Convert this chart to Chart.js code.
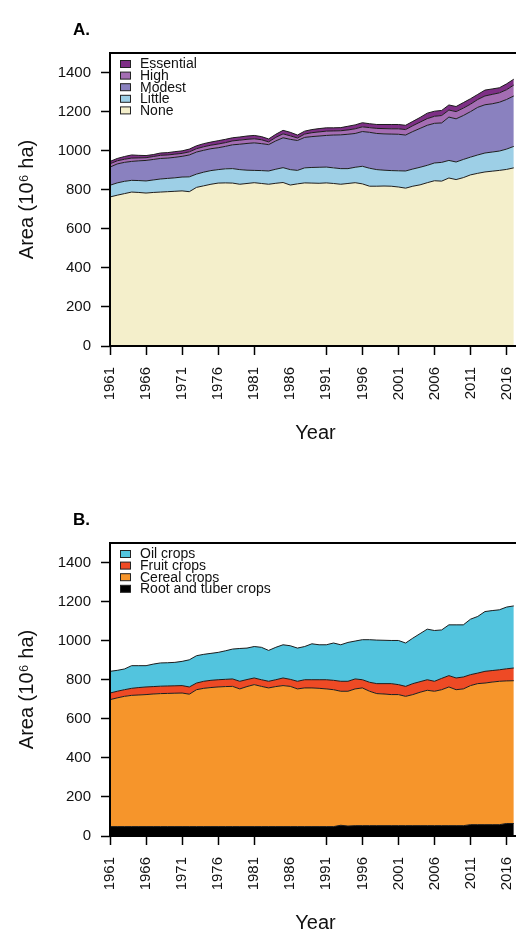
<!DOCTYPE html>
<html lang="en">
<head>
  <meta charset="UTF-8" />
  <meta name="viewport" content="width=device-width, initial-scale=1" />
  <title>Harvested area by pollinator dependence and crop group</title>
  <script src="https://cdn.jsdelivr.net/npm/chart.js"></script>
  <style>
    html, body {
      margin: 0;
      padding: 0;
      background: #fff;
      overflow: hidden;
    }
    body {
      width: 516px;
      height: 933px;
      position: relative;
    }
    .panel { position: absolute; left: 0; }
    #chartA { top: 0; }
    #chartB { top: 490px; }
  </style>
</head>
<body>
  <canvas id="chartA" class="panel" width="540" height="466"></canvas>
  <canvas id="chartB" class="panel" width="540" height="466"></canvas>

  <script>
    const years = Array.from({ length: 57 }, (_, i) => 1961 + i);
    const yearTicks = [1961, 1966, 1971, 1976, 1981, 1986, 1991, 1996, 2001, 2006, 2011, 2016];
    const areaTicks = [0, 200, 400, 600, 800, 1000, 1200, 1400];

    // Panel A: area by pollinator dependence (10^6 ha), 1961-2017
    const noneArea = [
      763, 772, 780, 788, 786, 783, 786, 788, 790, 792,
      794, 790, 812, 820, 828, 834, 835, 834, 828, 832,
      836, 832, 828, 833, 837, 824, 830, 835, 834, 833,
      835, 832, 828, 832, 836, 830, 818, 818, 819, 818,
      814, 808, 818, 825, 836, 846, 844, 860, 852, 862,
      876, 884, 891, 895, 899, 904, 912
    ];
    const littleArea = [
      60, 63, 63, 60, 61, 62, 64, 67, 68, 69,
      71, 76, 68, 70, 70, 69, 72, 74, 75, 68,
      63, 66, 68, 72, 76, 79, 69, 77, 80, 82,
      81, 80, 80, 76, 79, 90, 92, 85, 81, 80,
      83, 88, 88, 90, 89, 91, 96, 90, 90, 93,
      91, 94, 97, 98, 99, 104, 110
    ];
    const modestArea = [
      93, 97, 97, 97, 101, 105, 105, 105, 104, 105,
      106, 112, 113, 112, 112, 112, 115, 122, 130, 137,
      141, 138, 135, 145, 153, 155, 153, 156, 158, 160,
      162, 168, 173, 176, 173, 178, 184, 185, 186, 187,
      187, 184, 192, 199, 205, 203, 202, 222, 221, 225,
      233, 244, 247, 247, 250, 254, 258
    ];
    const highArea = [
      17, 16, 16, 17, 15, 14, 15, 16, 16, 16,
      15, 16, 17, 18, 18, 19, 19, 20, 21, 21,
      21, 20, 14, 18, 20, 18, 13, 17, 20, 21,
      22, 21, 21, 22, 24, 24, 24, 26, 27, 27,
      28, 28, 30, 32, 34, 36, 38, 36, 37, 38,
      38, 40, 45, 48, 48, 50, 56
    ];
    const essentialArea = [
      12, 12, 14, 16, 13, 11, 10, 12, 12, 13,
      13, 14, 15, 16, 16, 17, 17, 16, 16, 17,
      17, 16, 15, 16, 18, 18, 15, 15, 16, 17,
      17, 16, 16, 19, 20, 21, 20, 20, 21, 22,
      22, 22, 22, 24, 28, 26, 26, 26, 26, 28,
      28, 26, 30, 28, 26, 30, 30
    ];

    // Panel B: area by crop group (10^6 ha), 1961-2017
    const rootArea = [
      48, 48, 48, 48, 48, 48, 48, 48, 48, 48,
      48, 48, 48, 48, 48, 48, 48, 48, 48, 48,
      48, 48, 48, 48, 48, 48, 48, 48, 48, 48,
      48, 48, 55, 51, 53, 53, 53, 53, 53, 53,
      53, 53, 53, 53, 53, 53, 53, 53, 53, 53,
      58, 58, 58, 58, 58, 64, 64
    ];
    const cerealArea = [
      650, 659, 667, 672, 674, 676, 679, 681, 682, 683,
      684, 678, 701, 708, 712, 715, 717, 718, 705, 717,
      727, 718, 710, 717, 722, 718, 705, 710, 710, 708,
      705, 701, 686, 690, 700, 705, 688, 676, 674, 671,
      671, 662, 671, 683, 693, 688, 696, 710, 696, 700,
      712, 722, 725, 730, 734, 730, 731
    ];
    const fruitArea = [
      34, 34, 34, 36, 38, 39, 38, 38, 38, 38,
      38, 37, 34, 36, 37, 37, 37, 38, 39, 36,
      34, 34, 34, 35, 39, 36, 39, 42, 42, 44,
      47, 48, 51, 51, 51, 42, 46, 51, 53, 56,
      51, 51, 56, 54, 54, 51, 58, 58, 60, 61,
      56, 54, 60, 59, 59, 62, 65
    ];
    const oilArea = [
      111, 107, 106, 116, 112, 109, 115, 119, 119, 120,
      124, 139, 140, 138, 138, 140, 146, 153, 168, 161,
      161, 166, 158, 166, 170, 172, 170, 170, 184, 179,
      179, 191, 187, 199, 194, 205, 218, 223, 222, 221,
      226, 222, 233, 246, 259, 260, 248, 260, 272, 267,
      284, 290, 306, 307, 307, 316, 318
    ];

    const family = '"Liberation Sans", Arial, Helvetica, sans-serif';
    Chart.defaults.font.family = family;

    function points(values) {
      return values.map((v, i) => ({ x: years[i], y: v }));
    }

    // stacked layer: first one fills to zero, the rest to the layer below
    function layer(label, values, color, index) {
      return {
        label,
        data: points(values),
        backgroundColor: color,
        borderColor: '#1c1c1c',
        borderWidth: 1,
        fill: index === 0 ? 'origin' : '-1',
        pointRadius: 0,
        tension: 0
      };
    }

    // plot box, panel letter and the in-plot legend (top layer listed first)
    const framePlugin = {
      id: 'frame',
      afterDraw(chart, args, opts) {
        const { ctx, chartArea: a } = chart;
        ctx.save();
        ctx.strokeStyle = '#000';
        ctx.lineWidth = 2;
        ctx.strokeRect(a.left, a.top, a.right - a.left, a.bottom - a.top);

        ctx.fillStyle = '#000';
        ctx.textAlign = 'left';
        ctx.textBaseline = 'middle';
        ctx.font = 'bold 17px ' + family;
        ctx.fillText(opts.tag, 73, 30);

        ctx.font = '14px ' + family;
        chart.data.datasets.slice().reverse().forEach((ds, i) => {
          const y = a.top + 11 + i * 11.6;
          ctx.fillStyle = ds.backgroundColor;
          ctx.fillRect(a.left + 10, y - 3.5, 10, 7);
          ctx.strokeStyle = '#222';
          ctx.lineWidth = 1;
          ctx.strokeRect(a.left + 10.5, y - 3.5, 10, 7);
          ctx.fillStyle = '#111';
          ctx.fillText(ds.label, a.left + 30, y + 0.5);
        });
        ctx.restore();
      }
    };

    function axes() {
      return {
        x: {
          type: 'linear',
          min: 1961,
          max: 2018,
          afterFit: s => { s.height = 110; },
          afterBuildTicks: s => { s.ticks = yearTicks.map(v => ({ value: v })); },
          border: { display: false },
          grid: {
            drawOnChartArea: false,
            drawTicks: true,
            tickLength: 9,
            tickWidth: 1.5,
            tickColor: c => (c.tick && c.tick.value === 1986 ? 'rgba(0,0,0,0)' : '#000')
          },
          ticks: {
            autoSkip: false,
            minRotation: 90,
            maxRotation: 90,
            padding: 12,
            color: '#111',
            font: { size: 15 },
            callback: v => String(v)
          },
          title: {
            display: true,
            text: 'Year',
            color: '#111',
            font: { size: 20 },
            padding: { top: 0, bottom: 11 }
          }
        },
        y: {
          min: 0,
          max: 1500,
          stacked: true,
          afterFit: s => { s.width = 110; },
          afterBuildTicks: s => { s.ticks = areaTicks.map(v => ({ value: v })); },
          border: { display: false },
          grid: {
            drawOnChartArea: false,
            drawTicks: true,
            tickLength: 9,
            tickWidth: 1.5,
            tickColor: '#000'
          },
          ticks: {
            padding: 10,
            color: '#111',
            font: { size: 15 },
            callback: v => String(v)
          },
          title: {
            display: true,
            text: 'Area (10\u2076 ha)',
            color: '#111',
            font: { size: 20 },
            padding: { top: 15, bottom: 0 }
          }
        }
      };
    }

    function makeChart(id, tag, datasets) {
      return new Chart(document.getElementById(id), {
        type: 'line',
        data: { datasets },
        options: {
          responsive: false,
          animation: false,
          events: [],
          layout: { padding: { top: 53, right: 19, bottom: 10, left: 0 } },
          plugins: {
            legend: { display: false },
            tooltip: { enabled: false },
            frame: { tag }
          },
          scales: axes()
        },
        plugins: [framePlugin]
      });
    }

    makeChart('chartA', 'A.', [
      layer('None', noneArea, '#f4efcb', 0),
      layer('Little', littleArea, '#9dcfe6', 1),
      layer('Modest', modestArea, '#8a81bf', 2),
      layer('High', highArea, '#a46db3', 3),
      layer('Essential', essentialArea, '#7e2f86', 4)
    ]);

    makeChart('chartB', 'B.', [
      layer('Root and tuber crops', rootArea, '#000000', 0),
      layer('Cereal crops', cerealArea, '#f6952b', 1),
      layer('Fruit crops', fruitArea, '#ee4a25', 2),
      layer('Oil crops', oilArea, '#52c4de', 3)
    ]);
  </script>
</body>
</html>
